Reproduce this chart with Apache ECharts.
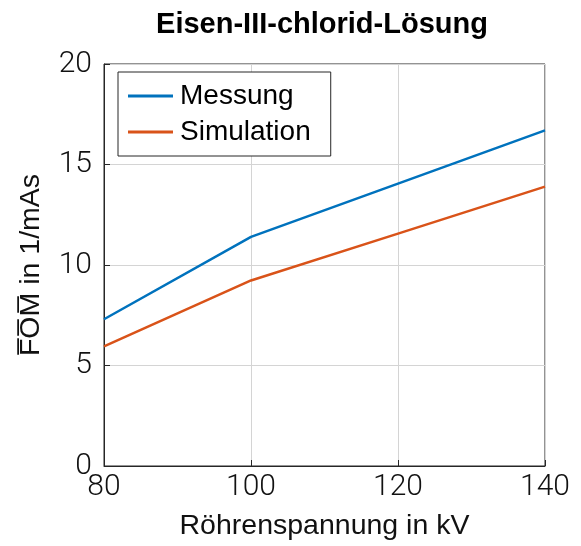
<!DOCTYPE html>
<html>
<head>
<meta charset="utf-8">
<script src="https://cdn.jsdelivr.net/npm/echarts@6/dist/echarts.min.js"></script>
<style>
  html, body { margin: 0; padding: 0; background: #fff; }
  #chart { width: 581px; height: 546px; }
</style>
</head>
<body>
<div id="chart"></div>
<script>
const voltages = [80, 100, 120, 140];
const messung = [7.3, 11.4, 14.05, 16.7];
const simulation = [5.95, 9.23, 11.56, 13.9];

const tickFont = { color: "#111", fontSize: 30, fontFamily: "Roboto", fontWeight: 300 };
const chart = echarts.init(document.getElementById("chart"));

chart.setOption({
  animation: false,
  title: {
    text: "Eisen-III-chlorid-Lösung",
    left: 317, top: 5, textAlign: "center",
    textStyle: { fontFamily: "Liberation Sans", fontWeight: "bold", fontSize: 29, color: "#000" },
  },
  grid: { left: 104, right: 36, top: 64, bottom: 79, show: true, borderColor: "#262626", borderWidth: 1 },
  legend: {
    left: 118, top: 72, orient: "vertical",
    padding: [10, 20, 10, 10], itemGap: 8,
    borderColor: "#262626", borderWidth: 1, backgroundColor: "#fff",
    itemWidth: 45, itemHeight: 3,
    icon: "rect",
    textStyle: { fontFamily: "Liberation Sans", fontSize: 28, color: "#000", padding: [0, 0, 0, 2] },
    data: ["Messung", "Simulation"],
  },
  xAxis: {
    type: "value", min: 80, max: 140, interval: 20,
    name: "Röhrenspannung in kV", nameLocation: "middle", nameGap: 46,
    nameTextStyle: { fontFamily: "Liberation Sans", fontSize: 28.5, color: "#111" },
    axisLine: { lineStyle: { color: "#262626" } },
    axisTick: { inside: true, length: 6, lineStyle: { color: "#262626" } },
    axisLabel: Object.assign({ margin: 6 }, tickFont),
    splitLine: { lineStyle: { color: "#d4d4d4" } },
  },
  yAxis: {
    type: "value", min: 0, max: 20, interval: 5,
    name: "F\u0305O\u0305M\u0305 in 1/mAs", nameLocation: "middle", nameGap: 58,
    nameTextStyle: { fontFamily: "Liberation Sans", fontSize: 28.5, color: "#111" },
    axisLine: { show: true, lineStyle: { color: "#262626" } },
    axisTick: { inside: true, length: 6, lineStyle: { color: "#262626" } },
    axisLabel: Object.assign({ margin: 12 }, tickFont),
    splitLine: { lineStyle: { color: "#d4d4d4" } },
  },
  series: [
    {
      name: "Messung", type: "line", showSymbol: false,
      data: voltages.map((v, i) => [v, messung[i]]),
      itemStyle: { color: "#0072bd" }, lineStyle: { width: 2.5, color: "#0072bd" },
    },
    {
      name: "Simulation", type: "line", showSymbol: false,
      data: voltages.map((v, i) => [v, simulation[i]]),
      itemStyle: { color: "#d95319" }, lineStyle: { width: 2.5, color: "#d95319" },
    },
  ],
});
</script>
</body>
</html>
